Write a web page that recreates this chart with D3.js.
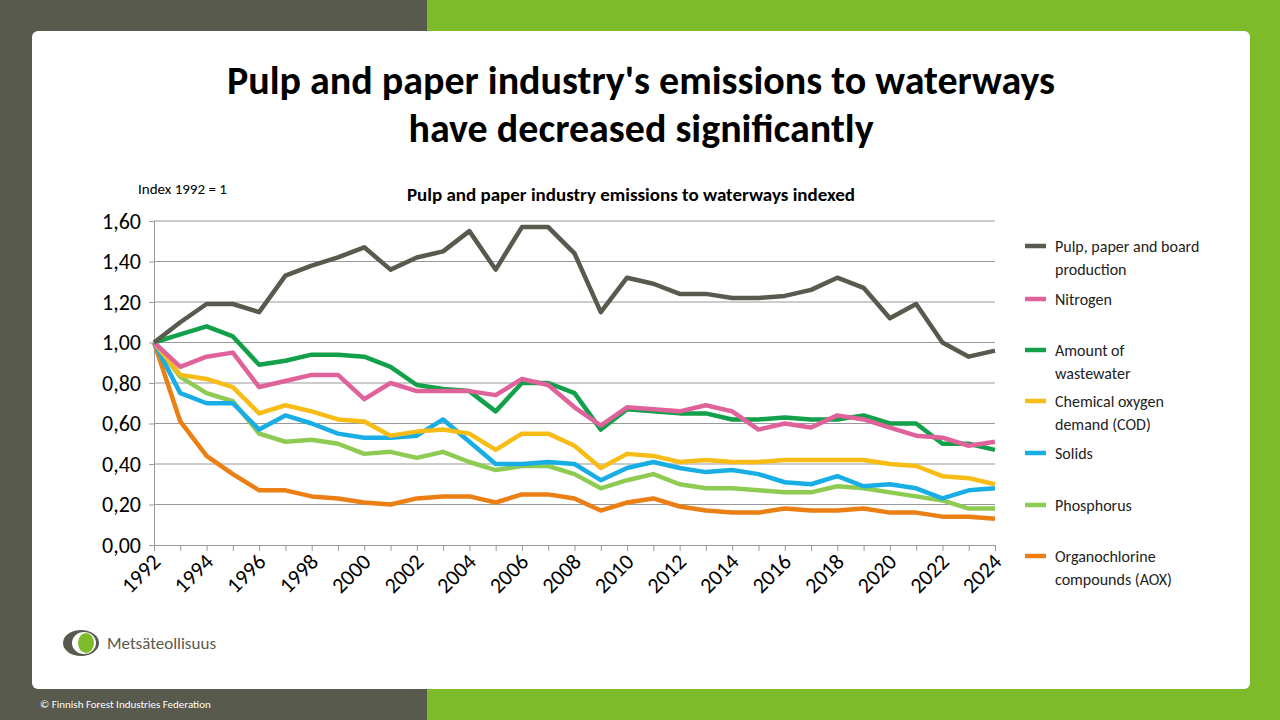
<!DOCTYPE html>
<html><head><meta charset="utf-8">
<script src="https://cdn.jsdelivr.net/npm/d3@7"></script>
<style>body{margin:0;} svg{display:block;font-family:Calibri,Carlito,"Open Sans",sans-serif;}</style>
</head><body><svg id="c" width="1280" height="720"></svg>
<script>
// Data
const years = d3.range(1992, 2025);
const production = [1.00,1.10,1.19,1.19,1.15,1.33,1.38,1.42,1.47,1.36,1.42,1.45,1.55,1.36,1.57,1.57,1.44,1.15,1.32,1.29,1.24,1.24,1.22,1.22,1.23,1.26,1.32,1.27,1.12,1.19,1.00,0.93,0.96];
const nitrogen = [1.00,0.88,0.93,0.95,0.78,0.81,0.84,0.84,0.72,0.80,0.76,0.76,0.76,0.74,0.82,0.79,0.68,0.59,0.68,0.67,0.66,0.69,0.66,0.57,0.60,0.58,0.64,0.62,0.58,0.54,0.53,0.49,0.51];
const wastewater = [1.00,1.04,1.08,1.03,0.89,0.91,0.94,0.94,0.93,0.88,0.79,0.77,0.76,0.66,0.80,0.80,0.75,0.57,0.67,0.66,0.65,0.65,0.62,0.62,0.63,0.62,0.62,0.64,0.60,0.60,0.50,0.50,0.47];
const cod = [1.00,0.84,0.82,0.78,0.65,0.69,0.66,0.62,0.61,0.54,0.56,0.57,0.55,0.47,0.55,0.55,0.49,0.38,0.45,0.44,0.41,0.42,0.41,0.41,0.42,0.42,0.42,0.42,0.40,0.39,0.34,0.33,0.30];
const solids = [1.00,0.75,0.70,0.70,0.57,0.64,0.60,0.55,0.53,0.53,0.54,0.62,0.51,0.40,0.40,0.41,0.40,0.32,0.38,0.41,0.38,0.36,0.37,0.35,0.31,0.30,0.34,0.29,0.30,0.28,0.23,0.27,0.28];
const phosphorus = [1.00,0.83,0.75,0.71,0.55,0.51,0.52,0.50,0.45,0.46,0.43,0.46,0.41,0.37,0.39,0.39,0.35,0.28,0.32,0.35,0.30,0.28,0.28,0.27,0.26,0.26,0.29,0.28,0.26,0.24,0.22,0.18,0.18];
const aox = [1.00,0.61,0.44,0.35,0.27,0.27,0.24,0.23,0.21,0.20,0.23,0.24,0.24,0.21,0.25,0.25,0.23,0.17,0.21,0.23,0.19,0.17,0.16,0.16,0.18,0.17,0.17,0.18,0.16,0.16,0.14,0.14,0.13];
const seriesNames = [["Pulp, paper and board","production"],["Nitrogen"],["Amount of","wastewater"],["Chemical oxygen","demand (COD)"],["Solids"],["Phosphorus"],["Organochlorine","compounds (AOX)"]];
const seriesValues = [production, nitrogen, wastewater, cod, solids, phosphorus, aox];
const colors = ["#575a4d","#e0629a","#13a04a","#f8bc16","#18ade4","#8dcb53","#eb7f13"];
const yTicks = [0,0.2,0.4,0.6,0.8,1.0,1.2,1.4,1.6];
const xTicks = d3.range(1992, 2025, 2);

const svg = d3.select("#c");
svg.append("rect").attr("width",427).attr("height",720).attr("fill","#585a4e");
svg.append("rect").attr("x",427).attr("width",853).attr("height",720).attr("fill","#7dbb2b");
svg.append("rect").attr("x",32).attr("y",31).attr("width",1218).attr("height",658).attr("rx",6).attr("fill","#fff");
svg.append("text").attr("x",40).attr("y",708).attr("fill","#fff").attr("font-size",11).text("© Finnish Forest Industries Federation");

const title = svg.append("text").attr("x",641).attr("text-anchor","middle").attr("font-weight","bold").attr("font-size",40).attr("fill","#000");
title.append("tspan").attr("x",641).attr("y",94).text("Pulp and paper industry's emissions to waterways");
title.append("tspan").attr("x",641).attr("y",142).text("have decreased significantly");
svg.append("text").attr("x",631).attr("y",201).attr("text-anchor","middle").attr("font-weight","bold").attr("font-size",19).text("Pulp and paper industry emissions to waterways indexed");
svg.append("text").attr("x",138).attr("y",194).attr("font-size",15).text("Index 1992 = 1");

const x = d3.scaleLinear().domain([1992,2024]).range([154,995]);
const y = d3.scaleLinear().domain([0,1.6]).range([545,221]);
const fmt = d => d3.format(".2f")(d).replace(".", ",");

const g = svg.append("g");
g.selectAll(".grid").data(yTicks.slice(1)).join("line")
  .attr("x1",154).attr("x2",995).attr("y1",y).attr("y2",y).attr("stroke","#999").attr("stroke-width",1);
const ya = g.append("g").attr("transform","translate(154,0)")
  .call(d3.axisLeft(y).tickValues(yTicks).tickFormat(fmt).tickSize(5).tickPadding(8));
ya.select(".domain").attr("stroke","#999");
ya.selectAll(".tick line").attr("stroke","#999");
ya.selectAll("text").attr("font-size",22).attr("fill","#000").attr("font-family","Calibri,Carlito,'Open Sans',sans-serif");
const xa = g.append("g").attr("transform","translate(0,545)")
  .call(d3.axisBottom(x).ticks(32).tickFormat("").tickSize(6));
xa.select(".domain").attr("stroke","#999");
xa.selectAll(".tick line").attr("stroke","#999");
g.selectAll(".xl").data(xTicks).join("text")
  .attr("transform", d => `translate(${x(d)+8},${563}) rotate(-45)`)
  .attr("text-anchor","end").attr("font-size",22).text(d => d);

const line = d3.line().x((d,i) => x(years[i])).y(d => y(d));
g.selectAll(".ser").data(seriesValues.slice().reverse()).join("path")
  .attr("d", line).attr("fill","none")
  .attr("stroke",(d,i) => colors[colors.length-1-i]).attr("stroke-width",4.5).attr("stroke-linejoin","round");

const legY = [246,299,350,401,453,505,556];
const leg = svg.append("g");
seriesNames.forEach((n,i) => {
  leg.append("line").attr("x1",1025).attr("x2",1046).attr("y1",legY[i]).attr("y2",legY[i]).attr("stroke",colors[i]).attr("stroke-width",4.5);
  n.forEach((t,j) => leg.append("text").attr("x",1055).attr("y",legY[i]+6+j*23).attr("font-size",16).attr("fill","#222").text(t));
});

// logo
const lg = svg.append("g").attr("transform","translate(81,643)");
lg.append("ellipse").attr("rx",18).attr("ry",13).attr("fill","#575a4d");
lg.append("ellipse").attr("cx",3).attr("rx",12).attr("ry",11).attr("fill","#fff");
lg.append("ellipse").attr("cx",5).attr("rx",8).attr("ry",10).attr("fill","#7dbb2b");
svg.append("text").attr("x",107).attr("y",649).attr("font-size",17).attr("fill","#575a4d").text("Metsäteollisuus");
</script></body></html>
